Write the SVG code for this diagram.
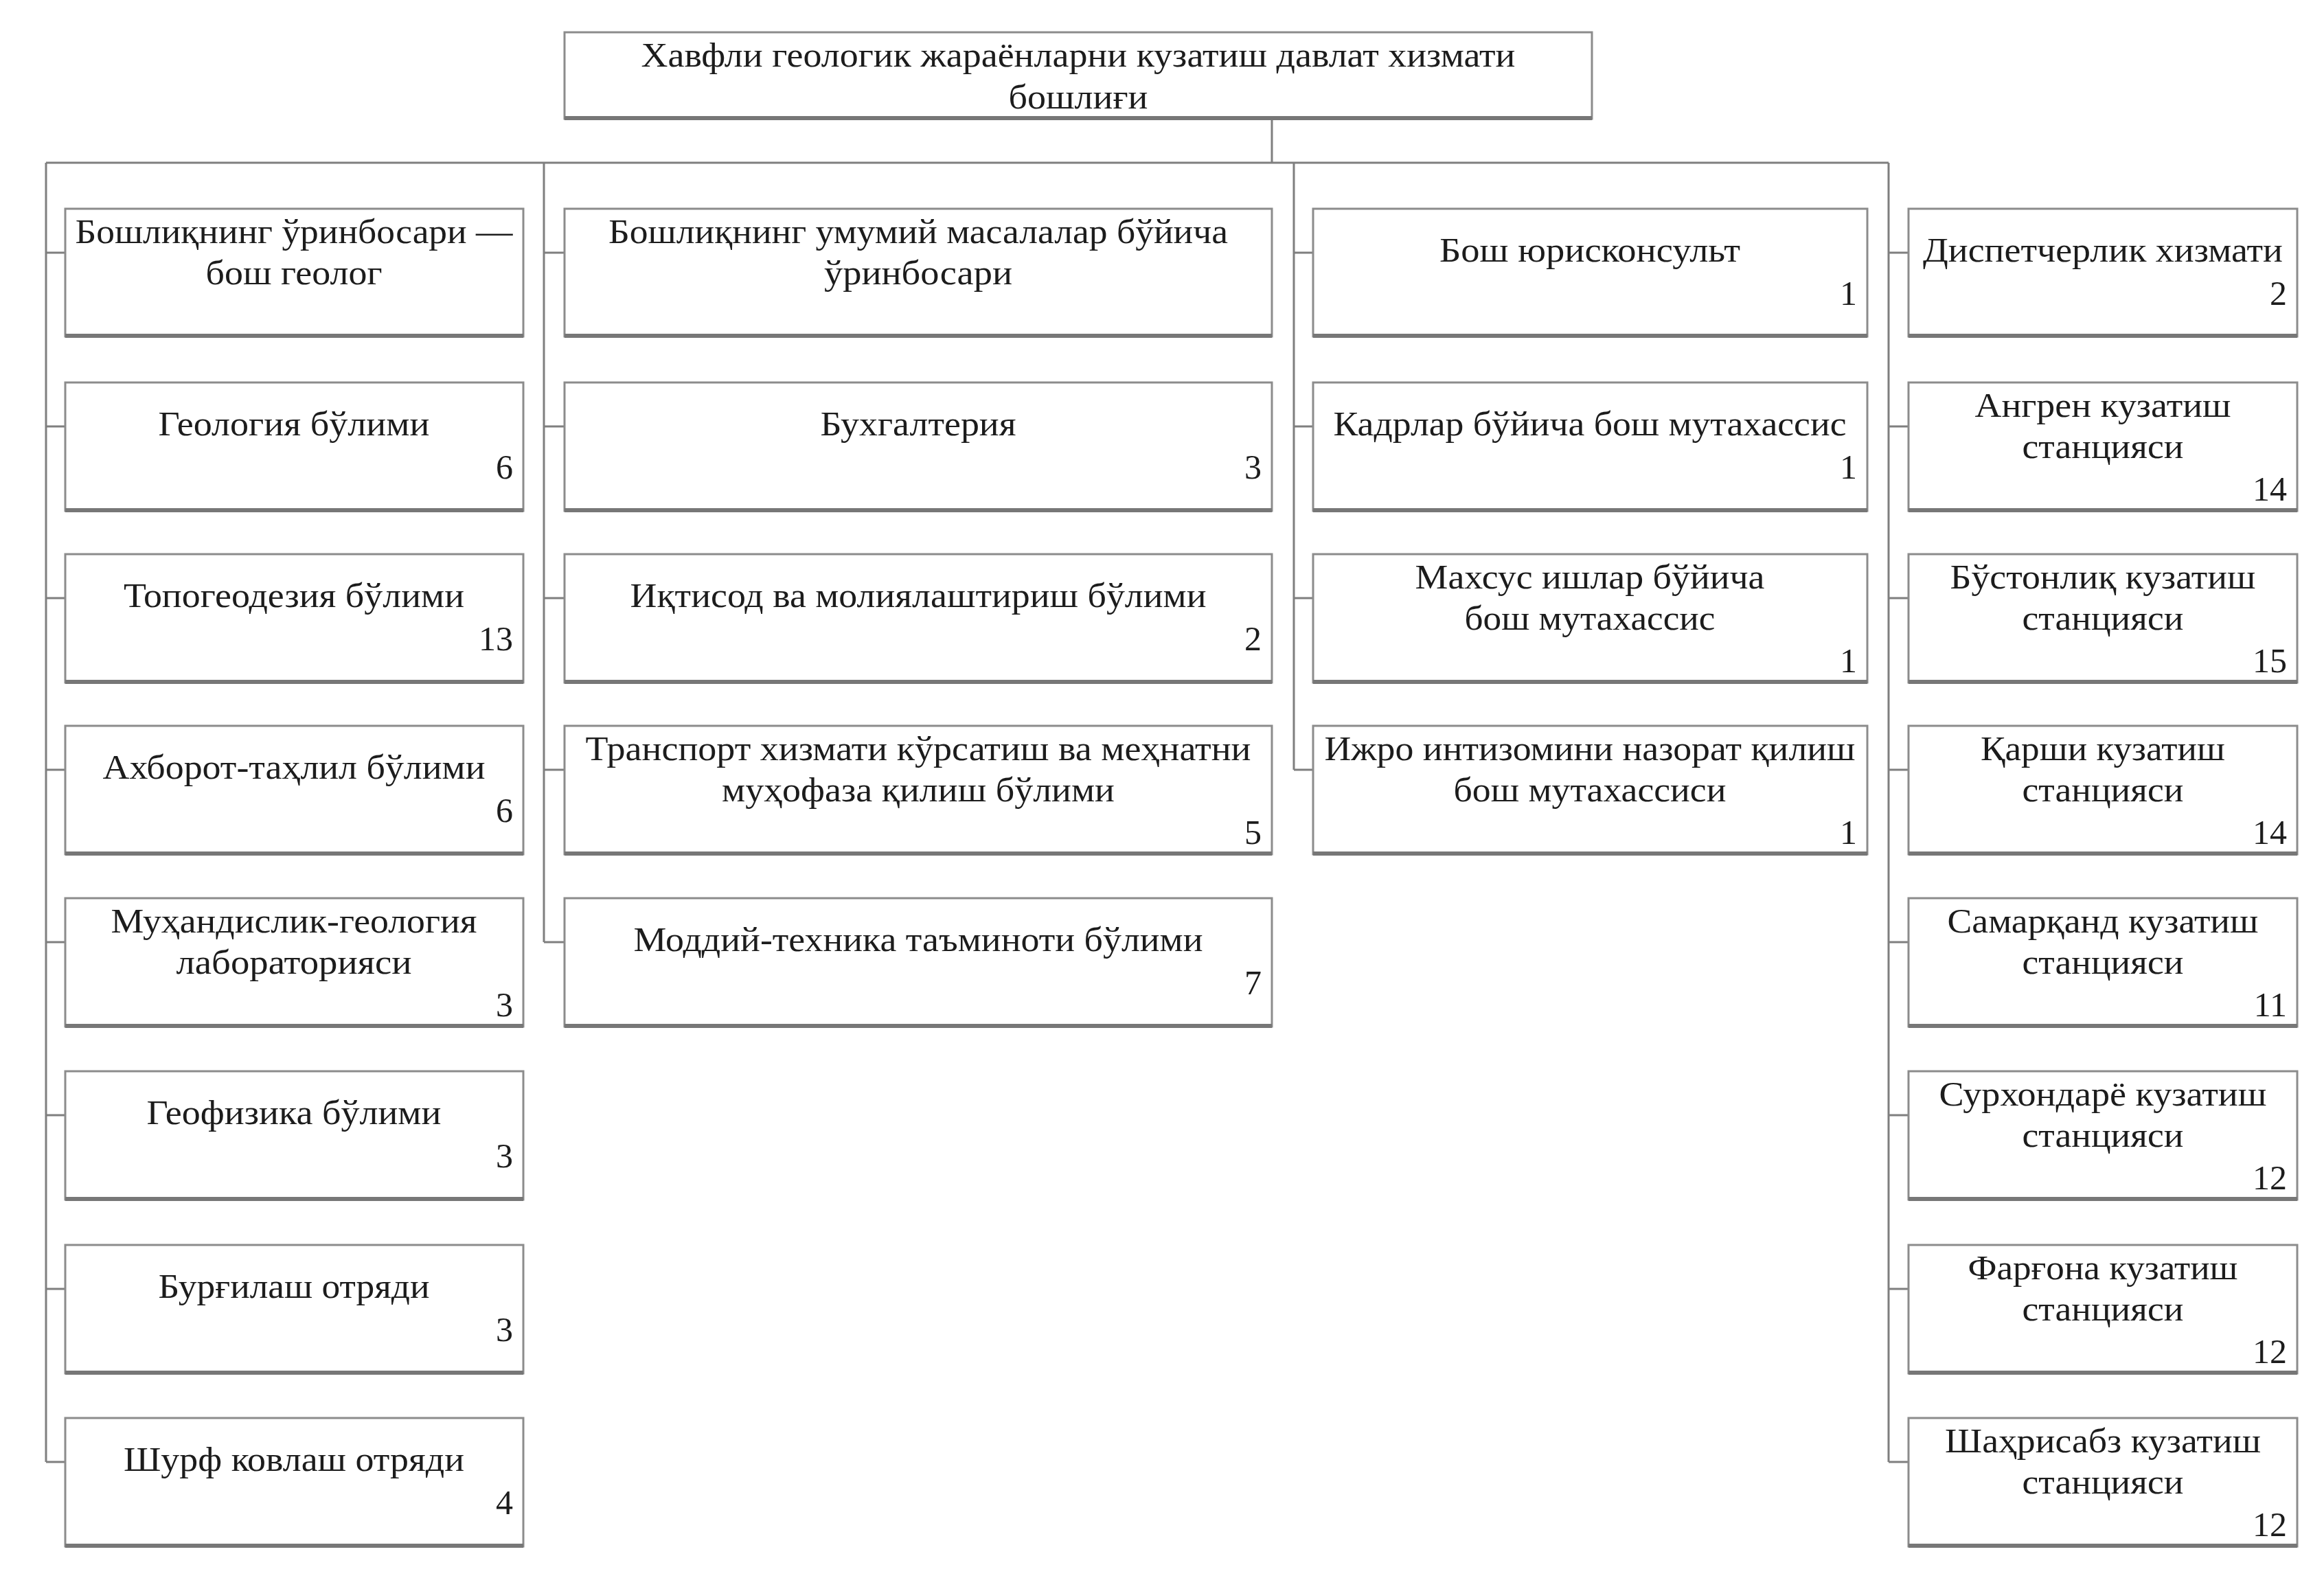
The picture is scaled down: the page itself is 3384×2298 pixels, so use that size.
<svg xmlns="http://www.w3.org/2000/svg" width="3384" height="2298" viewBox="0 0 3384 2298">
<style>
.bg{fill:#ffffff}
.box{fill:#ffffff;stroke:#8c8c8c;stroke-width:3}
.sh{stroke:#777777;stroke-width:6;fill:none}
.conn{stroke:#7f7f7f;stroke-width:3;fill:none}
.t{font-family:"Liberation Serif","Times New Roman",serif;font-size:50px;fill:#1c1c1c;text-anchor:middle}
.n{font-family:"Liberation Serif","Times New Roman",serif;font-size:50px;fill:#1c1c1c;text-anchor:end}
</style>
<rect class="bg" x="0" y="0" width="3384" height="2298"/>
<g id="connectors">
<path class="conn" d="M1852 173 V237 M67 237 H2750"/>
<path class="conn" d="M67 237 V2129 M67 368 H95 M67 621 H95 M67 871 H95 M67 1121 H95 M67 1372 H95 M67 1624 H95 M67 1877 H95 M67 2129 H95"/>
<path class="conn" d="M792 237 V1372 M792 368 H822 M792 621 H822 M792 871 H822 M792 1121 H822 M792 1372 H822"/>
<path class="conn" d="M1884 237 V1121 M1884 368 H1912 M1884 621 H1912 M1884 871 H1912 M1884 1121 H1912"/>
<path class="conn" d="M2750 237 V2129 M2750 368 H2779 M2750 621 H2779 M2750 871 H2779 M2750 1121 H2779 M2750 1372 H2779 M2750 1624 H2779 M2750 1877 H2779 M2750 2129 H2779"/>
</g>
<g id="head">
<rect class="box" x="822" y="47" width="1496" height="126"/><path class="sh" d="M822 172 H2318"/>
<text class="t" x="1570" y="97" textLength="1273" lengthAdjust="spacingAndGlyphs">Хавфли геологик жараёнларни кузатиш давлат хизмати</text>
<text class="t" x="1570" y="158" textLength="203" lengthAdjust="spacingAndGlyphs">бошлиғи</text>
</g>
<!-- Column 1 -->
<g id="c1r1">
<rect class="box" x="95" y="304" width="667" height="186"/><path class="sh" d="M95 489 H762"/>
<text class="t" x="428" y="354" textLength="637" lengthAdjust="spacingAndGlyphs">Бошлиқнинг ўринбосари —</text>
<text class="t" x="428" y="414" textLength="257" lengthAdjust="spacingAndGlyphs">бош геолог</text>
</g>
<g id="c1r2">
<rect class="box" x="95" y="557" width="667" height="187"/><path class="sh" d="M95 743 H762"/>
<text class="t" x="428" y="634" textLength="395" lengthAdjust="spacingAndGlyphs">Геология бўлими</text>
<text class="n" x="747" y="697">6</text>
</g>
<g id="c1r3">
<rect class="box" x="95" y="807" width="667" height="187"/><path class="sh" d="M95 993 H762"/>
<text class="t" x="428" y="884" textLength="496" lengthAdjust="spacingAndGlyphs">Топогеодезия бўлими</text>
<text class="n" x="747" y="947">13</text>
</g>
<g id="c1r4">
<rect class="box" x="95" y="1057" width="667" height="187"/><path class="sh" d="M95 1243 H762"/>
<text class="t" x="428" y="1134" textLength="557" lengthAdjust="spacingAndGlyphs">Ахборот-таҳлил бўлими</text>
<text class="n" x="747" y="1197">6</text>
</g>
<g id="c1r5">
<rect class="box" x="95" y="1308" width="667" height="187"/><path class="sh" d="M95 1494 H762"/>
<text class="t" x="428" y="1358" textLength="533" lengthAdjust="spacingAndGlyphs">Муҳандислик-геология</text>
<text class="t" x="428" y="1418" textLength="343" lengthAdjust="spacingAndGlyphs">лабораторияси</text>
<text class="n" x="747" y="1480">3</text>
</g>
<g id="c1r6">
<rect class="box" x="95" y="1560" width="667" height="187"/><path class="sh" d="M95 1746 H762"/>
<text class="t" x="428" y="1637" textLength="429" lengthAdjust="spacingAndGlyphs">Геофизика бўлими</text>
<text class="n" x="747" y="1700">3</text>
</g>
<g id="c1r7">
<rect class="box" x="95" y="1813" width="667" height="187"/><path class="sh" d="M95 1999 H762"/>
<text class="t" x="428" y="1890" textLength="395" lengthAdjust="spacingAndGlyphs">Бурғилаш отряди</text>
<text class="n" x="747" y="1953">3</text>
</g>
<g id="c1r8">
<rect class="box" x="95" y="2065" width="667" height="187"/><path class="sh" d="M95 2251 H762"/>
<text class="t" x="428" y="2142" textLength="496" lengthAdjust="spacingAndGlyphs">Шурф ковлаш отряди</text>
<text class="n" x="747" y="2205">4</text>
</g>
<!-- Column 2 -->
<g id="c2r1">
<rect class="box" x="822" y="304" width="1030" height="186"/><path class="sh" d="M822 489 H1852"/>
<text class="t" x="1337" y="354" textLength="902" lengthAdjust="spacingAndGlyphs">Бошлиқнинг умумий масалалар бўйича</text>
<text class="t" x="1337" y="414" textLength="274" lengthAdjust="spacingAndGlyphs">ўринбосари</text>
</g>
<g id="c2r2">
<rect class="box" x="822" y="557" width="1030" height="187"/><path class="sh" d="M822 743 H1852"/>
<text class="t" x="1337" y="634" textLength="285" lengthAdjust="spacingAndGlyphs">Бухгалтерия</text>
<text class="n" x="1837" y="697">3</text>
</g>
<g id="c2r3">
<rect class="box" x="822" y="807" width="1030" height="187"/><path class="sh" d="M822 993 H1852"/>
<text class="t" x="1337" y="884" textLength="839" lengthAdjust="spacingAndGlyphs">Иқтисод ва молиялаштириш бўлими</text>
<text class="n" x="1837" y="947">2</text>
</g>
<g id="c2r4">
<rect class="box" x="822" y="1057" width="1030" height="187"/><path class="sh" d="M822 1243 H1852"/>
<text class="t" x="1337" y="1107" textLength="969" lengthAdjust="spacingAndGlyphs">Транспорт хизмати кўрсатиш ва меҳнатни</text>
<text class="t" x="1337" y="1167" textLength="572" lengthAdjust="spacingAndGlyphs">муҳофаза қилиш бўлими</text>
<text class="n" x="1837" y="1229">5</text>
</g>
<g id="c2r5">
<rect class="box" x="822" y="1308" width="1030" height="187"/><path class="sh" d="M822 1494 H1852"/>
<text class="t" x="1337" y="1385" textLength="829" lengthAdjust="spacingAndGlyphs">Моддий-техника таъминоти бўлими</text>
<text class="n" x="1837" y="1448">7</text>
</g>
<!-- Column 3 -->
<g id="c3r1">
<rect class="box" x="1912" y="304" width="807" height="186"/><path class="sh" d="M1912 489 H2719"/>
<text class="t" x="2315" y="381" textLength="438" lengthAdjust="spacingAndGlyphs">Бош юрисконсульт</text>
<text class="n" x="2704" y="444">1</text>
</g>
<g id="c3r2">
<rect class="box" x="1912" y="557" width="807" height="187"/><path class="sh" d="M1912 743 H2719"/>
<text class="t" x="2315" y="634" textLength="747" lengthAdjust="spacingAndGlyphs">Кадрлар бўйича бош мутахассис</text>
<text class="n" x="2704" y="697">1</text>
</g>
<g id="c3r3">
<rect class="box" x="1912" y="807" width="807" height="187"/><path class="sh" d="M1912 993 H2719"/>
<text class="t" x="2315" y="857" textLength="509" lengthAdjust="spacingAndGlyphs">Махсус ишлар бўйича</text>
<text class="t" x="2315" y="917" textLength="365" lengthAdjust="spacingAndGlyphs">бош мутахассис</text>
<text class="n" x="2704" y="979">1</text>
</g>
<g id="c3r4">
<rect class="box" x="1912" y="1057" width="807" height="187"/><path class="sh" d="M1912 1243 H2719"/>
<text class="t" x="2315" y="1107" textLength="773" lengthAdjust="spacingAndGlyphs">Ижро интизомини назорат қилиш</text>
<text class="t" x="2315" y="1167" textLength="397" lengthAdjust="spacingAndGlyphs">бош мутахассиси</text>
<text class="n" x="2704" y="1229">1</text>
</g>
<!-- Column 4 -->
<g id="c4r1">
<rect class="box" x="2779" y="304" width="566" height="186"/><path class="sh" d="M2779 489 H3345"/>
<text class="t" x="3062" y="381" textLength="524" lengthAdjust="spacingAndGlyphs">Диспетчерлик хизмати</text>
<text class="n" x="3330" y="444">2</text>
</g>
<g id="c4r2">
<rect class="box" x="2779" y="557" width="566" height="187"/><path class="sh" d="M2779 743 H3345"/>
<text class="t" x="3062" y="607" textLength="373" lengthAdjust="spacingAndGlyphs">Ангрен кузатиш</text>
<text class="t" x="3062" y="667" textLength="235" lengthAdjust="spacingAndGlyphs">станцияси</text>
<text class="n" x="3330" y="729">14</text>
</g>
<g id="c4r3">
<rect class="box" x="2779" y="807" width="566" height="187"/><path class="sh" d="M2779 993 H3345"/>
<text class="t" x="3062" y="857" textLength="445" lengthAdjust="spacingAndGlyphs">Бўстонлиқ кузатиш</text>
<text class="t" x="3062" y="917" textLength="235" lengthAdjust="spacingAndGlyphs">станцияси</text>
<text class="n" x="3330" y="979">15</text>
</g>
<g id="c4r4">
<rect class="box" x="2779" y="1057" width="566" height="187"/><path class="sh" d="M2779 1243 H3345"/>
<text class="t" x="3062" y="1107" textLength="356" lengthAdjust="spacingAndGlyphs">Қарши кузатиш</text>
<text class="t" x="3062" y="1167" textLength="235" lengthAdjust="spacingAndGlyphs">станцияси</text>
<text class="n" x="3330" y="1229">14</text>
</g>
<g id="c4r5">
<rect class="box" x="2779" y="1308" width="566" height="187"/><path class="sh" d="M2779 1494 H3345"/>
<text class="t" x="3062" y="1358" textLength="453" lengthAdjust="spacingAndGlyphs">Самарқанд кузатиш</text>
<text class="t" x="3062" y="1418" textLength="235" lengthAdjust="spacingAndGlyphs">станцияси</text>
<text class="n" x="3330" y="1480">11</text>
</g>
<g id="c4r6">
<rect class="box" x="2779" y="1560" width="566" height="187"/><path class="sh" d="M2779 1746 H3345"/>
<text class="t" x="3062" y="1610" textLength="477" lengthAdjust="spacingAndGlyphs">Сурхондарё кузатиш</text>
<text class="t" x="3062" y="1670" textLength="235" lengthAdjust="spacingAndGlyphs">станцияси</text>
<text class="n" x="3330" y="1732">12</text>
</g>
<g id="c4r7">
<rect class="box" x="2779" y="1813" width="566" height="187"/><path class="sh" d="M2779 1999 H3345"/>
<text class="t" x="3062" y="1863" textLength="393" lengthAdjust="spacingAndGlyphs">Фарғона кузатиш</text>
<text class="t" x="3062" y="1923" textLength="235" lengthAdjust="spacingAndGlyphs">станцияси</text>
<text class="n" x="3330" y="1985">12</text>
</g>
<g id="c4r8">
<rect class="box" x="2779" y="2065" width="566" height="187"/><path class="sh" d="M2779 2251 H3345"/>
<text class="t" x="3062" y="2115" textLength="460" lengthAdjust="spacingAndGlyphs">Шаҳрисабз кузатиш</text>
<text class="t" x="3062" y="2175" textLength="235" lengthAdjust="spacingAndGlyphs">станцияси</text>
<text class="n" x="3330" y="2237">12</text>
</g>
</svg>
